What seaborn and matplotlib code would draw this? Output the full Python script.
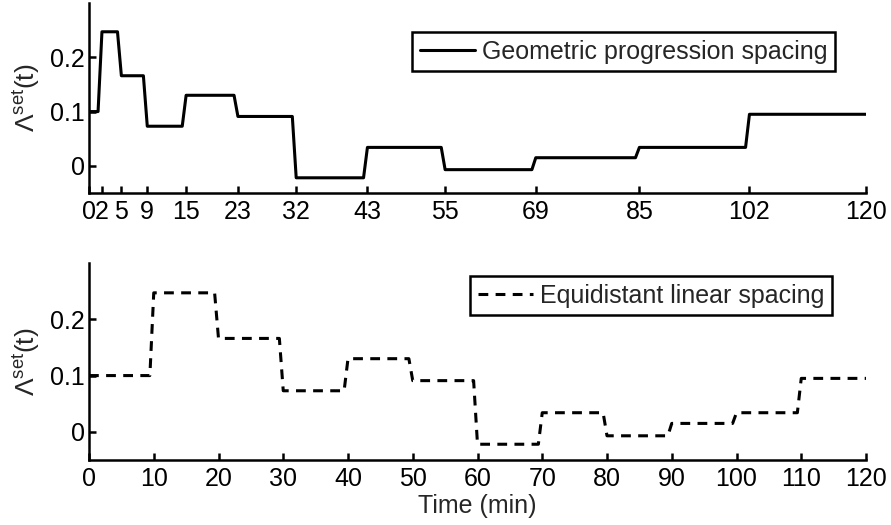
import numpy as np
import pandas as pd
import matplotlib
matplotlib.use("Agg")
import matplotlib.pyplot as plt
import seaborn as sns

# ---- data ----
geo_times = [0, 2, 5, 9, 15, 23, 32, 43, 55, 69, 85, 102, 120]
lin_times = [0, 10, 20, 30, 40, 50, 60, 70, 80, 90, 100, 110, 120]
levels = [0.100, 0.247, 0.166, 0.073, 0.130, 0.091, -0.022, 0.034, -0.007, 0.015, 0.034, 0.095]
geo_label = "Geometric progression spacing"
lin_label = "Equidistant linear spacing"
x_label = "Time (min)"
y_label = r"$\mathrm{\Lambda}^{\mathrm{set}}\mathrm{(t)}$"
y_ticks = [0, 0.1, 0.2]
y_ticklabels = ["0", "0.1", "0.2"]

RAMP = 0.6


def step_frame(times, vals, name):
    xs, ys = [times[0]], [vals[0]]
    for k in range(1, len(vals)):
        xs += [times[k] - RAMP, times[k]]
        ys += [vals[k - 1], vals[k]]
    xs.append(times[-1])
    ys.append(vals[-1])
    return pd.DataFrame({"t": xs, "v": ys, "series": name})


sns.set_theme(style="white")
plt.rcParams["font.family"] = ["Liberation Sans", "DejaVu Sans"]
plt.rcParams["mathtext.fontset"] = "custom"
plt.rcParams["mathtext.rm"] = "Liberation Sans"
plt.rcParams["mathtext.it"] = "Liberation Sans:italic"
plt.rcParams["mathtext.bf"] = "Liberation Sans:bold"

FS = 18
W, H = 891, 525
fig = plt.figure(figsize=(W / 100, H / 100), dpi=100)
ax1 = fig.add_axes([89 / W, 1 - 193 / H, 777 / W, 190 / H])
ax2 = fig.add_axes([89 / W, 1 - 460 / H, 777 / W, 197 / H])

df1 = step_frame(geo_times, levels, geo_label)
df2 = step_frame(lin_times, levels, lin_label)

sns.lineplot(data=df1, x="t", y="v", ax=ax1, sort=False, estimator=None,
             color="black", linewidth=2.2, label=geo_label)
sns.lineplot(data=df2, x="t", y="v", ax=ax2, sort=False, estimator=None,
             color="black", linewidth=2.2, label=lin_label)
ax2.lines[0].set_dashes((3.2, 2.4))

for ax, ticks in ((ax1, geo_times), (ax2, lin_times)):
    ax.set_xlim(0, 120)
    ax.set_ylim(-0.05, 0.3)
    ax.set_xticks(ticks)
    ax.set_xticklabels([str(t) for t in ticks])
    ax.set_yticks(y_ticks)
    ax.set_yticklabels(y_ticklabels)
    ax.set_xlabel("")
    ax.set_ylabel(y_label, fontsize=FS + 1, labelpad=6)
    for s in ("top", "right"):
        ax.spines[s].set_visible(False)
    for s in ("left", "bottom"):
        ax.spines[s].set_linewidth(1.8)
        ax.spines[s].set_color("black")
    ax.tick_params(axis="both", direction="in", length=5, width=1.8,
                   colors="black", labelsize=FS, bottom=True, left=True)
    ax.tick_params(axis="x", pad=5)
    ax.tick_params(axis="y", pad=3)
    ax.set_facecolor("white")

ax2.set_xlabel(x_label, fontsize=FS, labelpad=2)

leg_kw = dict(bbox_transform=fig.transFigure, borderaxespad=0, loc="upper right",
              fontsize=FS, frameon=True, fancybox=False, handlelength=2.2,
              handletextpad=0.3, borderpad=0.3)
leg1 = ax1.legend(bbox_to_anchor=(835 / W, 1 - 32 / H), **leg_kw)
leg2 = ax2.legend(bbox_to_anchor=(832 / W, 1 - 276 / H), **leg_kw)
for lg in (leg1, leg2):
    fr = lg.get_frame()
    fr.set_edgecolor("black")
    fr.set_linewidth(1.8)
    fr.set_alpha(1)
    for h in lg.get_lines():
        h.set_linewidth(2.2)
leg2.get_lines()[0].set_dashes((3.2, 2.4))

fig.savefig("out.png", dpi=100, facecolor="white")
